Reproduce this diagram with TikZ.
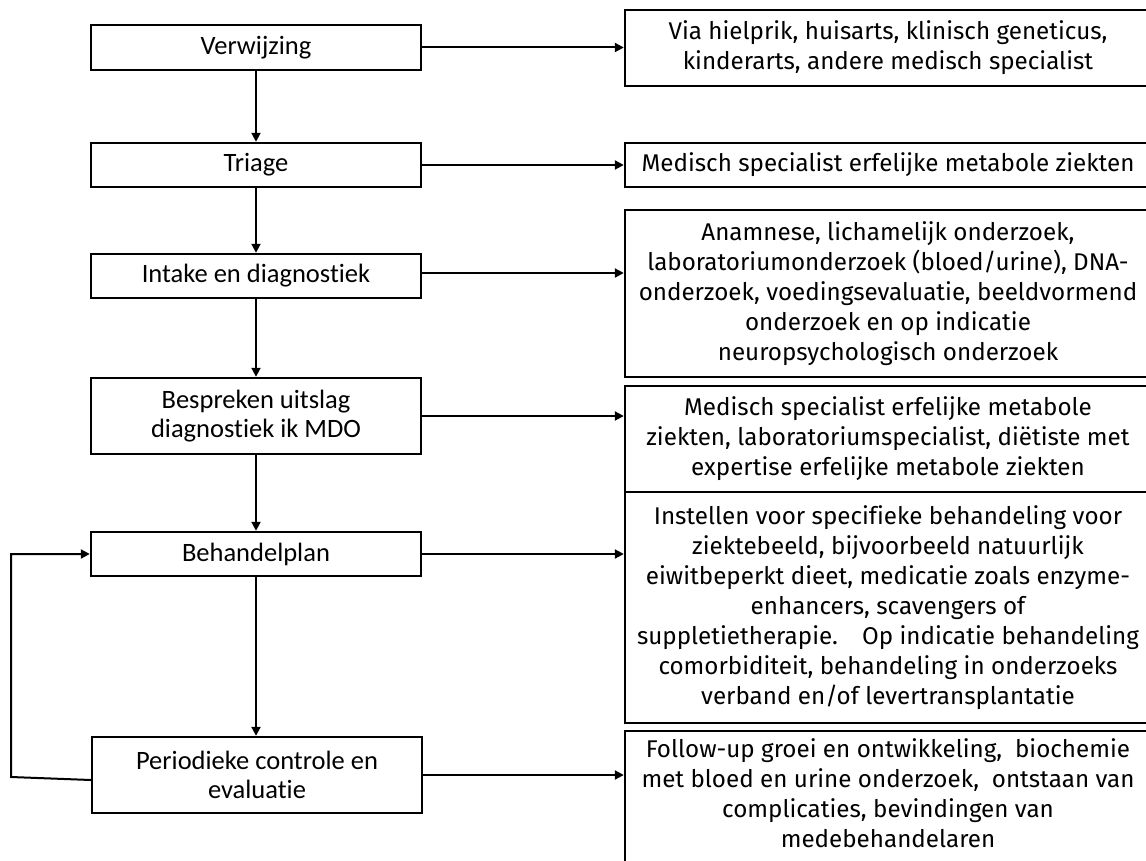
\documentclass[tikz,border=0pt]{standalone}
\usepackage{fontspec}
\setmainfont[Ligatures=NoCommon]{Fira Sans}
\newfontfamily\leftfont[Ligatures=NoCommon]{Carlito}
\usetikzlibrary{arrows.meta}
\begin{document}
\begin{tikzpicture}[x=1pt,y=-1pt,
  lbox/.style={draw, line width=2.4pt, minimum width=330pt, align=center, inner sep=0pt,
    font=\leftfont\fontsize{26.5}{28.5}\selectfont},
  rbox/.style={draw, line width=2.4pt, minimum width=526pt, align=center, inner sep=0pt,
    font=\fontsize{24.2}{30}\selectfont},
  conn/.style={line width=2pt, -{Triangle[length=9pt,width=9pt]}},
  plain/.style={line width=2pt}]
\clip (0,0) rectangle (1146,861);
\fill[white] (0,0) rectangle (1146,861);
% left column
\node[lbox, minimum height=45pt] (v) at (256,47.5) {Verwijzing};
\node[lbox, minimum height=44pt] (t) at (256,165) {Triage};
\node[lbox, minimum height=44pt] (i) at (256,276) {Intake en diagnostiek};
\node[lbox, minimum height=76pt] (b) at (256,416) {Bespreken uitslag\\diagnostiek ik MDO};
\node[lbox, minimum height=44pt] (p) at (256,554) {Behandelplan};
\node[lbox, minimum height=76pt] (e) at (257,775) {Periodieke controle en\\evaluatie};
% right column
\node[rbox, minimum height=76pt] (r1) at (888,48) {Via hielprik, huisarts, klinisch geneticus,\\kinderarts, andere medisch specialist};
\node[rbox, minimum height=44pt] (r2) at (888,165) {Medisch specialist erfelijke metabole ziekten};
\node[rbox, minimum height=167pt] (r3) at (888,293.5) {Anamnese, lichamelijk onderzoek,\\laboratoriumonderzoek (bloed/urine), DNA-\\onderzoek, voedingsevaluatie, beeldvormend\\onderzoek en op indicatie\\neuropsychologisch onderzoek};
\node[rbox, minimum height=106pt] (r4) at (888,439) {Medisch specialist erfelijke metabole\\ziekten, laboratoriumspecialist, diëtiste met\\expertise erfelijke metabole ziekten};
\node[rbox, minimum height=231pt] (r5) at (888,607.5) {Instellen voor specifieke behandeling voor\\ziektebeeld, bijvoorbeeld natuurlijk\\eiwitbeperkt dieet, medicatie zoals enzyme-\\enhancers, scavengers of\\suppletietherapie.\quad Op indicatie behandeling\\comorbiditeit, behandeling in onderzoeks\\verband en/of levertransplantatie};
\node[rbox, minimum height=142pt, anchor=north] (r6) at (888,730) {\rule{0pt}{0pt}};
\node[font=\fontsize{24.2}{30}\selectfont, align=center, anchor=north, inner sep=0pt] (r6t) at (888,738) {Follow-up groei en ontwikkeling,\ \ biochemie\\met bloed en urine onderzoek,\ \ ontstaan van\\complicaties, bevindingen van\\medebehandelaren};
% vertical flow
\draw[conn] (v) -- (t);
\draw[conn] (t) -- (i);
\draw[conn] (i) -- (b);
\draw[conn] (b) -- (p);
\draw[conn] (p) -- (p |- e.north);
% horizontal connectors
\draw[conn] (v.east) -- (v.east -| r1.west);
\draw[conn] (t.east) -- (t.east -| r2.west);
\draw[conn] ([yshift=3pt]i.east) -- ([yshift=3pt]i.east -| r3.west);
\draw[conn] (b.east) -- (b.east -| r4.west);
\draw[conn] (p.east) -- (p.east -| r5.west);
\draw[conn] (e.east) -- (e.east -| r6.west);
% feedback loop
\coordinate (lp) at (11,777);
\draw[conn] ([yshift=-5pt]e.west) -- (lp) |- (p.west);
\end{tikzpicture}
\end{document}
